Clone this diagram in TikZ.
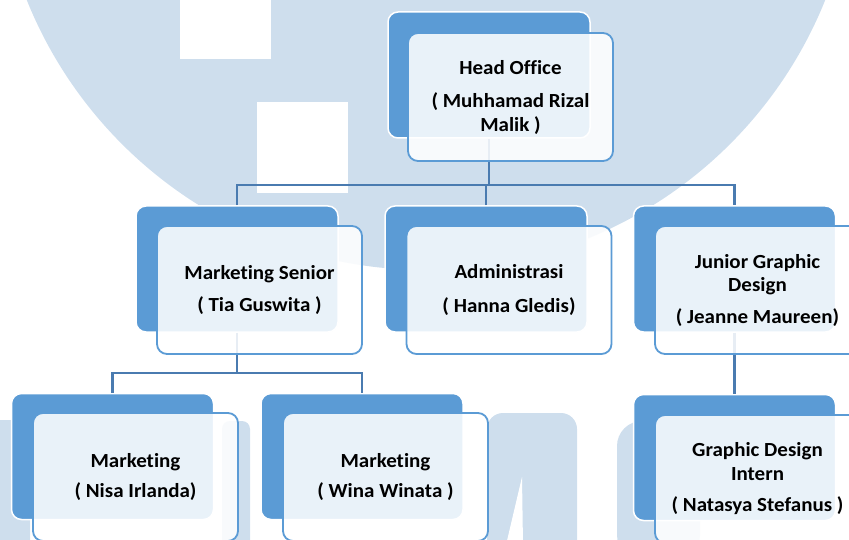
\documentclass[tikz,border=0pt]{standalone}
\usepackage{fontspec}
\setmainfont{Carlito}[FakeStretch=1.05, Ligatures=NoCommon]
\definecolor{boxblue}{HTML}{5B9BD5}
\definecolor{linkblue}{HTML}{4A7BB0}
\definecolor{wm}{HTML}{CEDEED}
\begin{document}
\begin{tikzpicture}[x=1pt,y=-1pt,
  backbox/.style={rectangle, rounded corners=10pt, fill=boxblue, draw=white, line width=1.5pt,
    minimum width=202pt, minimum height=126pt, inner sep=0pt},
  frontbox/.style={rectangle, rounded corners=10pt, fill=white, fill opacity=0.87, text opacity=1,
    draw=boxblue, line width=1.8pt, minimum width=205pt, minimum height=128pt, inner sep=0pt,
    align=center, font=\bfseries\fontsize{20}{23.5}\selectfont},
  conn/.style={draw=linkblue, line width=2.3pt},
  wmark/.style={fill=wm}]
\useasboundingbox (0,0) rectangle (849,540);
\clip (0,0) rectangle (849,540);
% watermark
\fill[wmark] (426,-160) circle (430pt);
\fill[white] (180,-5) rectangle (271,59);
\fill[white] (257,102) rectangle (348,193);
\fill[wmark, rounded corners=8pt] (-10,420) rectangle (30,560);
\fill[wmark, rounded corners=8pt] (222,421) rectangle (250,560);
\fill[wmark, rounded corners=16pt] (487,413) rectangle (577,560);
\fill[white] (522,477) -- (523,545) -- (506,545) -- cycle;
\fill[wmark, rounded corners=25pt] (617,421) rectangle (700,560);
% back boxes
\node[backbox] (hoB) at (489,75) {};
\node[backbox] (msB) at (237,269) {};
\node[backbox] (adB) at (486,269) {};
\node[backbox] (jgB) at (734.5,269) {};
\node[backbox] (niB) at (112.5,456.5) {};
\node[backbox] (wiB) at (362,456.5) {};
\node[backbox] (naB) at (734.5,457.5) {};
% connectors
\coordinate (bus1) at (0,185);
\coordinate (bus2) at (0,373);
\draw[conn] (hoB.south) -- (hoB.south |- bus1);
\draw[conn] (msB.north) |- (jgB.north |- bus1) -- (jgB.north);
\draw[conn] (adB.north) -- (adB.north |- bus1);
\draw[conn] (msB.south) -- (msB.south |- bus2);
\draw[conn] (niB.north) |- (wiB.north |- bus2) -- (wiB.north);
\draw[conn] (jgB.south) -- (naB.north);
% front boxes
\node[frontbox] (hoF) at (510.5,97) {Head Office\\[10pt]( Muhhamad Rizal\\Malik )};
\node[frontbox] (msF) at (259.5,290) {Marketing Senior\\[9pt]( Tia Guswita )};
\node[frontbox] (adF) at (509,290) {Administrasi\\[10pt]( Hanna Gledis)};
\node[frontbox] (jgF) at (757.5,290) {Junior Graphic\\Design\\[8pt]( Jeanne Maureen)};
\node[frontbox] (niF) at (135.5,477) {Marketing\\[7pt]( Nisa Irlanda)};
\node[frontbox] (wiF) at (385.5,477) {Marketing\\[7pt]( Wina Winata )};
\node[frontbox] (naF) at (757.5,479) {Graphic Design\\Intern\\[8pt]( Natasya Stefanus )};
\end{tikzpicture}
\end{document}
